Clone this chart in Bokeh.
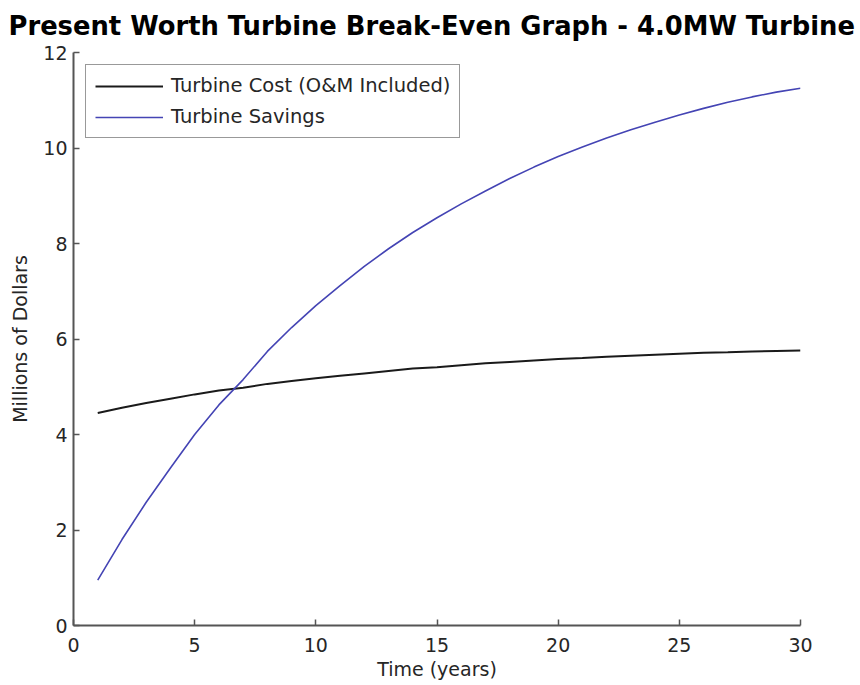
from bokeh.plotting import figure
from bokeh.models import Range1d, FixedTicker
from bokeh.embed import file_html
from bokeh.resources import INLINE

# Data (years 1..30, millions of dollars)
years = list(range(1, 31))
turbine_cost = [4.45, 4.56, 4.66, 4.75, 4.84, 4.92, 4.98, 5.06, 5.12, 5.18,
                5.23, 5.28, 5.33, 5.38, 5.41, 5.45, 5.49, 5.52, 5.55, 5.58,
                5.60, 5.63, 5.65, 5.67, 5.69, 5.71, 5.72, 5.74, 5.75, 5.76]
turbine_savings = [0.95, 1.80, 2.58, 3.30, 4.00, 4.62, 5.15, 5.74, 6.24, 6.70,
                   7.12, 7.52, 7.89, 8.23, 8.54, 8.83, 9.10, 9.36, 9.60, 9.82,
                   10.02, 10.21, 10.38, 10.54, 10.69, 10.83, 10.96, 11.07, 11.17, 11.25]
x_ticks = [0, 5, 10, 15, 20, 25, 30]
y_ticks = [0, 2, 4, 6, 8, 10, 12]

title_text = "Present Worth Turbine Break-Even Graph - 4.0MW Turbine"
label_cost = "Turbine Cost (O&M Included)"
label_savings = "Turbine Savings"

p = figure(width=860, height=685, output_backend="svg", toolbar_location=None,
           x_range=Range1d(0, 30), y_range=Range1d(0, 12),
           min_border_left=73, min_border_right=60, min_border_top=52,
           min_border_bottom=60, title=title_text)

p.background_fill_color = "white"
p.border_fill_color = "white"
p.outline_line_color = None
p.grid.visible = False

p.title.align = "left"
p.title.offset = -65
p.title.vertical_align = "top"
p.title.text_font = "DejaVu Sans"
p.title.text_font_style = "bold"
p.title.text_font_size = "25.8px"
p.title.text_color = "#000000"
p.title.standoff = 19

p.line(years, turbine_cost, line_color="#1a1a1a", line_width=2, legend_label=label_cost)
p.line(years, turbine_savings, line_color="#4444b4", line_width=1.6, legend_label=label_savings)

for ax in (p.xaxis[0], p.yaxis[0]):
    ax.axis_line_color = "#555555"
    ax.axis_line_width = 2
    ax.major_tick_line_color = "#555555"
    ax.major_tick_line_width = 1.5
    ax.major_tick_in = 6
    ax.major_tick_out = 0
    ax.minor_tick_line_color = None
    ax.major_label_text_font = "DejaVu Sans"
    ax.major_label_text_font_size = "19px"
    ax.major_label_text_color = "#262626"
    ax.axis_label_text_font = "DejaVu Sans"
    ax.axis_label_text_font_size = "19px"
    ax.axis_label_text_font_style = "normal"
    ax.axis_label_text_color = "#262626"

p.xaxis[0].ticker = FixedTicker(ticks=x_ticks)
p.yaxis[0].ticker = FixedTicker(ticks=y_ticks)
p.xaxis[0].axis_label = "Time (years)"
p.yaxis[0].axis_label = "Millions of Dollars"
p.xaxis[0].major_label_standoff = 12
p.xaxis[0].axis_label_standoff = 3
p.yaxis[0].major_label_standoff = 6
p.yaxis[0].axis_label_standoff = 9

leg = p.legend[0]
leg.location = "top_left"
leg.margin = 12
leg.padding = 9
leg.spacing = 8
leg.glyph_width = 68
leg.glyph_height = 20
leg.label_height = 20
leg.label_standoff = 8
leg.label_text_font = "DejaVu Sans"
leg.label_text_font_size = "19.5px"
leg.label_text_color = "#262626"
leg.border_line_color = "#333333"
leg.border_line_width = 1.5
leg.background_fill_color = "white"
leg.background_fill_alpha = 1.0

open("out.html", "w").write(file_html(p, INLINE))
